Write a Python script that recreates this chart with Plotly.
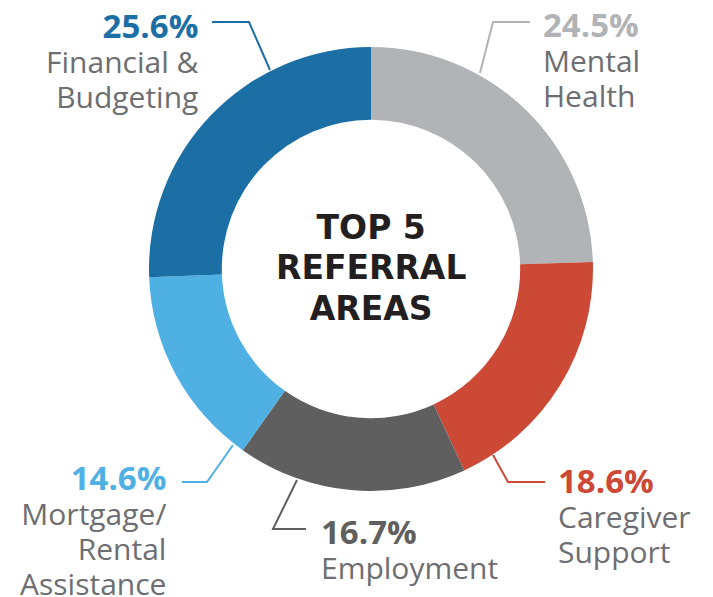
import plotly.graph_objects as go

# ---- data ----
categories = ["Mental Health", "Caregiver Support", "Employment",
              "Mortgage/ Rental Assistance", "Financial & Budgeting"]
values = [24.5, 18.6, 16.7, 14.6, 25.6]
pct_labels = ["24.5%", "18.6%", "16.7%", "14.6%", "25.6%"]
label_lines = [["Mental", "Health"], ["Caregiver", "Support"], ["Employment"],
               ["Mortgage/", "Rental", "Assistance"], ["Financial &", "Budgeting"]]
colors = ["#b1b3b6", "#cc4936", "#5f5f5f", "#4fb0e3", "#1b6fa5"]
center_lines = ["TOP 5", "REFERRAL", "AREAS"]

# ---- layout helpers (reference pixel coords) ----
W, H = 713, 597
CX, CY, R = 371, 269, 222


def px(x, y):
    return x / W, 1 - y / H


# connector path, text anchor x, side, cap-middle y of first (percent) line
label_layout = [
    dict(path=[(480, 73), (493, 22), (530, 22)], tx=542, side="left", py=24),
    dict(path=[(493, 455), (508, 482), (545, 482)], tx=557, side="left", py=480),
    dict(path=[(297, 480), (273, 529), (306, 529)], tx=320, side="left", py=531),
    dict(path=[(233, 445), (207, 482), (182, 482)], tx=167, side="right", py=477),
    dict(path=[(270, 70), (249, 22), (212, 22)], tx=200, side="right", py=25),
]
LINE_STEP = 35.1  # 1.3 * base font size 27
center_y = [227, 270, 308]

dx0, dy0 = px(CX - R, CY + R)
dx1, dy1 = px(CX + R, CY - R)
fig = go.Figure(go.Pie(
    labels=categories, values=values, sort=False, direction="clockwise",
    rotation=0, hole=0.672, textinfo="none", hoverinfo="label+percent",
    marker=dict(colors=colors, line=dict(width=0)),
    domain=dict(x=[dx0, dx1], y=[dy0, dy1]),
    showlegend=False,
))

shapes = []
annotations = []
FONT = "Open Sans"
for i, lay in enumerate(label_layout):
    pts = [px(x, y) for x, y in lay["path"]]
    d = "M " + " L ".join(f"{x},{y}" for x, y in pts)
    shapes.append(dict(type="path", path=d, xref="paper", yref="paper",
                       line=dict(color=colors[i], width=2)))
    lines = [f"<span style='font-size:33px;color:{colors[i]}'><b>{pct_labels[i]}</b></span>"]
    lines += [f"<span style='font-size:30px'>{t}</span>" for t in label_lines[i]]
    n = len(lines)
    mid_y = lay["py"] + (n - 1) * LINE_STEP / 2
    xa, ya = px(lay["tx"], mid_y)
    annotations.append(dict(text="<br>".join(lines), x=xa, y=ya, xref="paper", yref="paper",
                            xanchor=lay["side"], yanchor="middle", align=lay["side"],
                            showarrow=False, borderpad=0,
                            font=dict(family=FONT, size=27, color="#6d6e71")))

center_text = "<br>".join(f"<span style='font-size:33px'><b>{t}</b></span>" for t in center_lines)
xc, yc = px(CX, sum(center_y) / len(center_y))
annotations.append(dict(text=center_text, x=xc, y=yc, xref="paper", yref="paper",
                        xanchor="center", yanchor="middle", showarrow=False, borderpad=0,
                        font=dict(family="DejaVu Sans", size=31, color="#231f20")))

fig.update_layout(
    width=W, height=H, margin=dict(l=0, r=0, t=0, b=0),
    paper_bgcolor="white", plot_bgcolor="white",
    shapes=shapes, annotations=annotations,
)

fig.write_html("out.html", config={"displayModeBar": False},
               post_script="document.body.style.margin='0';")
